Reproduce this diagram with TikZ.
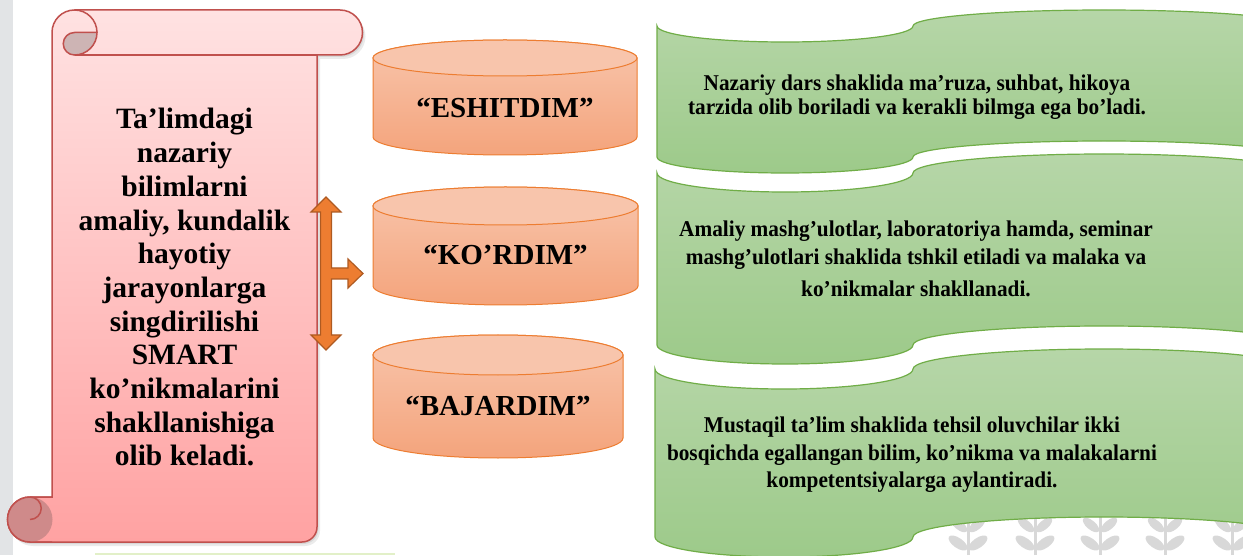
\documentclass[tikz,border=0pt]{standalone}
\usepackage{fontspec}
\setmainfont{Liberation Serif}
\definecolor{scrolltop}{RGB}{255,226,226}
\definecolor{scrollbot}{RGB}{255,162,162}
\definecolor{scrollline}{RGB}{192,80,77}
\definecolor{curlgrey}{RGB}{205,180,180}
\definecolor{curldark}{RGB}{207,138,138}
\definecolor{orangefill}{RGB}{237,125,49}
\definecolor{orangeline}{RGB}{174,90,33}
\definecolor{cyltop}{RGB}{248,197,172}
\definecolor{cylbot}{RGB}{244,164,124}
\definecolor{cylline}{RGB}{237,125,49}
\definecolor{greentop}{RGB}{182,214,168}
\definecolor{greenbot}{RGB}{157,202,138}
\definecolor{greenline}{RGB}{112,173,71}
\definecolor{stripgrey}{RGB}{226,228,230}
\definecolor{leafgrey}{RGB}{216,216,216}
\definecolor{stripgreen}{RGB}{226,240,200}
\tikzset{
  scrollline/.style={draw=scrollline,line width=1.5pt},
  cylbody/.style={top color=cyltop,bottom color=cylbot,draw=cylline,line width=1pt},
  cyltext/.style={inner sep=0pt,anchor=base,font=\bfseries\fontsize{29}{33}\selectfont},
  greenshape/.style={top color=greentop,bottom color=greenbot,draw=greenline,line width=1.2pt},
  greentext/.style={inner sep=0pt,anchor=base},
  scrolltext/.style={inner sep=0pt,anchor=base},
  leaf/.style={fill=leafgrey},
}
\newcommand\scrollshape[1]{%
  \path[#1] (74.5,545) -- (340,545) arc[start angle=90,end angle=-90,radius=22.5pt]
    -- (317,500) -- (317,28) arc[start angle=0,end angle=-90,radius=15pt]
    -- (30,13) arc[start angle=270,end angle=90,radius=22.5pt]
    -- (52,58) -- (52,522.5) arc[start angle=180,end angle=90,radius=22.5pt] -- cycle;}
\newcommand\greenwave[5]{%
  \path[greenshape] (#1,#2) arc[start angle=180,end angle=360,x radius=#5 pt,y radius=#4 pt]
    arc[start angle=180,end angle=0,x radius=191pt,y radius=#4 pt] -- (1295,#3)
    arc[start angle=0,end angle=180,x radius=191pt,y radius=#4 pt]
    arc[start angle=360,end angle=180,x radius=#5 pt,y radius=#4 pt] -- cycle;}
\newcommand\sprig[1]{%
  \draw[leafgrey,line width=3pt] (#1,0) -- (#1,42);
  \fill[leaf,rotate around={35:(#1+10,12)}] (#1+10,12) ellipse[x radius=11pt,y radius=5pt];
  \fill[leaf,rotate around={-35:(#1-10,12)}] (#1-10,12) ellipse[x radius=11pt,y radius=5pt];
  \fill[leaf,rotate around={40:(#1+9,30)}] (#1+9,30) ellipse[x radius=10pt,y radius=4.5pt];
  \fill[leaf,rotate around={-40:(#1-9,30)}] (#1-9,30) ellipse[x radius=10pt,y radius=4.5pt];}
\newcommand\gtext[2]{\scalebox{1}[1.06]{\parbox[t]{580pt}{\centering\bfseries\fontsize{21.3}{#1}\selectfont #2}}}
\begin{document}
\begin{tikzpicture}[x=1pt,y=1pt]
\useasboundingbox (0,0) rectangle (1243,555);
\clip (0,0) rectangle (1243,555);
\fill[white] (0,0) rectangle (1243,555);
% page decorations
\fill[stripgrey] (0,0) rectangle (13,555);
\fill[stripgreen] (95,0) rectangle (395,2.5);
\foreach \sx in {968,1035,1100,1165,1232} {\sprig{\sx}}
% scroll
\scrollshape{fill=black,opacity=0.08,shift={(3,-4)}}
\scrollshape{fill=black,opacity=0.08,shift={(1.5,-2)}}
\scrollshape{top color=scrolltop,bottom color=scrollbot,scrollline}
\draw[scrollline] (317,500) -- (74.5,500);
\draw[scrollline] (74.5,545) arc[start angle=90,end angle=0,radius=22.5pt];
\filldraw[fill=curlgrey,scrollline] (74.5,522.5) -- (97,522.5)
  arc[start angle=0,end angle=-90,radius=22.5pt]
  arc[start angle=270,end angle=90,radius=11.25pt] -- cycle;
\fill[curldark] (30,35.5) circle[radius=22.5pt];
\draw[scrollline] (52,58) -- (30,58) arc[start angle=90,end angle=270,radius=22.5pt] -- (52,13);
\draw[scrollline] (30,58) arc[start angle=90,end angle=-90,radius=11.25pt];
\node[scrolltext] (scrolltxt) at (184.5,426) {\parbox[t]{300pt}{\centering\bfseries\fontsize{29.5}{33.7}\selectfont
  Ta’limdagi\\ nazariy\\ bilimlarni\\ amaliy, kundalik\\ hayotiy\\ jarayonlarga\\ singdirilishi\\ SMART\\ ko’nikmalarini\\ shakllanishiga\\ olib keladi.}};
% orange arrow
\filldraw[fill=orangefill,draw=orangeline,line width=1.2pt,line join=miter]
  (326,358) -- (341,343) -- (331.5,343) -- (331.5,287) -- (348,287) -- (348,296)
  -- (363,281.5) -- (348,267) -- (348,276) -- (331.5,276) -- (331.5,220) -- (341,220)
  -- (326,205) -- (311,220) -- (320.5,220) -- (320.5,343) -- (311,343) -- cycle;
% cylinders
\path[cylbody] (373,497) -- (373,418) arc[start angle=180,end angle=360,x radius=132pt,y radius=18pt]
  -- (637,497) arc[start angle=0,end angle=180,x radius=132pt,y radius=18pt] -- cycle;
\draw[fill=cyltop,draw=cylline,line width=1pt] (505,497) ellipse[x radius=132pt,y radius=18pt];
\node[cyltext] (c1) at (505,437) {“ESHITDIM”};
\path[cylbody] (373,349) -- (373,269) arc[start angle=180,end angle=360,x radius=132.5pt,y radius=19pt]
  -- (638,349) arc[start angle=0,end angle=180,x radius=132.5pt,y radius=19pt] -- cycle;
\draw[fill=cyltop,draw=cylline,line width=1pt] (505.5,349) ellipse[x radius=132.5pt,y radius=19pt];
\node[cyltext] (c2) at (505.5,290) {“KO’RDIM”};
\path[cylbody] (373,200) -- (373,117) arc[start angle=180,end angle=360,x radius=125pt,y radius=20pt]
  -- (623,200) arc[start angle=0,end angle=180,x radius=125pt,y radius=20pt] -- cycle;
\draw[fill=cyltop,draw=cylline,line width=1pt] (498,200) ellipse[x radius=125pt,y radius=20pt];
\node[cyltext] (c3) at (498,140) {“BAJARDIM”};
% green waves
\greenwave{657}{529}{398}{16}{128}
\greenwave{657}{382}{210}{19}{128}
\greenwave{655}{186}{18}{20}{129}
\node[greentext] (g1) at (917,464) {\gtext{22.6}{Nazariy dars shaklida ma’ruza, suhbat, hikoya\\ tarzida olib boriladi va kerakli bilmga ega bo’ladi.}};
\node[greentext] (g2) at (916,318) {\gtext{25.5}{Amaliy mashg’ulotlar, laboratoriya hamda, seminar\\ mashg’ulotlari shaklida tshkil etiladi va malaka va\\[5.5pt] ko’nikmalar shakllanadi.}};
\node[greentext] (g3) at (912,122) {\gtext{25.5}{Mustaqil ta’lim shaklida tehsil oluvchilar ikki\\ bosqichda egallangan bilim, ko’nikma va malakalarni\\ kompetentsiyalarga aylantiradi.}};
\end{tikzpicture}
\end{document}
